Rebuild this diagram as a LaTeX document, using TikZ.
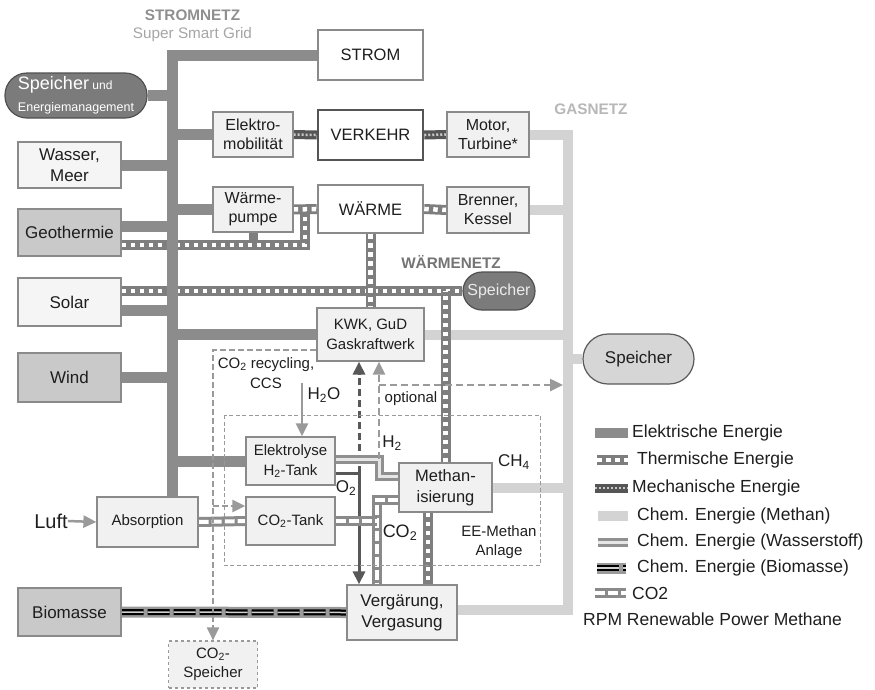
\documentclass[tikz,border=0pt]{standalone}
\usepackage{fontspec}
\setmainfont{Liberation Sans}
\usetikzlibrary{arrows.meta,backgrounds,calc}
\definecolor{elecC}{HTML}{8C8C8C}
\definecolor{gasC}{HTML}{D3D3D3}
\definecolor{thermC}{HTML}{7E7E7E}
\definecolor{mechC}{HTML}{555555}
\definecolor{mechD}{HTML}{C8C8C8}
\definecolor{hydC}{HTML}{909090}
\definecolor{hydD}{HTML}{E6E6E6}
\definecolor{coC}{HTML}{8A8A8A}
\definecolor{bioC}{HTML}{9A9A9A}
\definecolor{bioD}{HTML}{D0D0D0}
\definecolor{boxF}{HTML}{F1F1F1}
\definecolor{boxB}{HTML}{8A8A8A}
\definecolor{darkF}{HTML}{C9C9C9}
\definecolor{pillD}{HTML}{7B7B7B}
\definecolor{pillB}{HTML}{505050}
\definecolor{pillL}{HTML}{D6D6D6}
\definecolor{dashC}{HTML}{9A9A9A}
\definecolor{arrD}{HTML}{585858}
\definecolor{txtC}{HTML}{1E1E1E}
\newcommand{\fntXL}{\fontsize{17}{21}\selectfont}
\newcommand{\fntL}{\fontsize{16.5}{21}\selectfont}
\newcommand{\fntM}{\fontsize{16}{19}\selectfont}
\newcommand{\fntS}{\fontsize{15}{19.5}\selectfont}
\begin{document}
\begin{tikzpicture}[x=1pt,y=-1pt,
  box/.style={draw=boxB, fill=boxF, line width=1.2pt, align=center, inner sep=0pt, text=txtC, font=\fntM},
  bigbox/.style={draw=boxB, fill=white, line width=2.5pt, align=center, inner sep=0pt, text=txtC, font=\fntL},
  srcbox/.style={box, font=\fntXL},
  darkbox/.style={srcbox, fill=darkF},
  elec/.style={draw=elecC, line width=11pt},
  gas/.style={draw=gasC, line width=10pt},
  therm/.style={draw=thermC, line width=10pt, postaction={draw=white, line width=4.5pt, dash pattern=on 4.5pt off 4.5pt}},
  mech/.style={draw=mechC, line width=9pt, postaction={draw=mechD, line width=2.5pt, dash pattern=on 2pt off 2pt}},
  hyd/.style={draw=hydC, line width=9pt, postaction={draw=hydD, line width=3pt}},
  cotwo/.style={draw=coC, line width=10pt, postaction={draw=white, line width=4pt, dash pattern=on 10pt off 3pt}},
  bio/.style={draw=bioC, line width=11pt, postaction={draw=black, line width=6pt, dash pattern=on 22pt off 4pt}, postaction={draw=bioD, line width=1.5pt, dash pattern=on 22pt off 4pt}},
  tipG/.style={-{Triangle[length=13pt,width=12pt]}},
  garrow/.style={draw=dashC, line width=2.5pt, tipG},
  ccs/.style={draw=dashC, line width=2pt, dash pattern=on 6pt off 3pt},
  optdash/.style={draw=dashC, line width=2.5pt, dash pattern=on 7pt off 4pt, tipG},
  o2line/.style={draw=arrD, line width=3pt, tipG},
  o2dash/.style={draw=arrD, line width=3pt, dash pattern=on 7pt off 4pt, tipG},
  lbl/.style={text=txtC, inner sep=0pt},
  legtxt/.style={text=txtC, anchor=west, inner sep=0pt, font=\fontsize{17.5}{21}\selectfont}
]
\useasboundingbox (0,0) rectangle (875,689);

% ---------- titles ----------
\node[text=txtC!50, font=\bfseries\fontsize{15.3}{18}\selectfont] (tStrom) at (192.5,15) {STROMNETZ};
\node[text=txtC!40, font=\fontsize{15.3}{18}\selectfont] (tSmart) at (192.5,35) {Super Smart Grid};
\node[text=txtC!32, font=\bfseries\fontsize{15.3}{18}\selectfont] (tGas) at (591,109) {GASNETZ};
\node[text=txtC!62, font=\bfseries\fontsize{15.3}{18}\selectfont] (tWaerme) at (451,262) {WÄRMENETZ};

% ---------- nodes ----------
\node[bigbox, minimum width=105pt, minimum height=50pt] (strom) at (370.5,55) {STROM};
\node[bigbox, draw=mechC, minimum width=105pt, minimum height=50pt] (verkehr) at (370.5,135) {VERKEHR};
\node[bigbox, minimum width=105pt, minimum height=48pt] (waerme) at (370.5,209) {WÄRME};
\node[box, minimum width=80pt, minimum height=45pt] (emob) at (253,134.5) {Elektro-\\mobilität};
\node[box, minimum width=80pt, minimum height=45pt] (wpumpe) at (253,209.5) {Wärme-\\pumpe};
\node[box, minimum width=82pt, minimum height=45pt] (motor) at (488,134.5) {Motor,\\Turbine*};
\node[box, minimum width=82pt, minimum height=46pt] (brenner) at (488,210) {Brenner,\\Kessel};
\node[draw=pillB, fill=pillD, line width=1.2pt, text=white, inner sep=0pt, minimum width=142pt, minimum height=45pt, rounded corners=22pt, align=left, font=\fontsize{12.5}{21.5}\selectfont] (spE) at (76,95.5)
  {{\fontsize{18}{21.5}\selectfont Speicher} {\fontsize{12}{14}\selectfont und}\\Energiemanagement};
\node[srcbox, fill=white!96!black, minimum width=103pt, minimum height=46pt] (wasser) at (69.5,165) {Wasser,\\Meer};
\node[darkbox, minimum width=103pt, minimum height=47pt] (geo) at (69.5,232.5) {Geothermie};
\node[srcbox, fill=white!96!black, minimum width=103pt, minimum height=48pt] (solar) at (69.5,302) {Solar};
\node[darkbox, minimum width=103pt, minimum height=49pt] (wind) at (69.5,377.5) {Wind};
\node[draw=pillB, fill=pillD, line width=1.2pt, text=white!92!black, inner sep=0pt, minimum width=72pt, minimum height=38pt, rounded corners=19pt, font=\fntM] (wspeicher) at (499,291) {Speicher};
\node[box, font=\fntS, minimum width=107pt, minimum height=53pt] (kwk) at (370.5,334.5) {KWK, GuD\\Gaskraftwerk};
\node[draw=black!65, fill=pillL, line width=1.2pt, text=txtC, inner sep=0pt, minimum width=111pt, minimum height=50pt, rounded corners=25pt, font=\fntXL] (rspeicher) at (638.5,359) {Speicher};
\node[box, font=\fntS, minimum width=89pt, minimum height=48pt] (elek) at (290.5,461) {Elektrolyse\\H\textsubscript{2}-Tank};
\node[box, font=\fntS, minimum width=89pt, minimum height=48pt] (co2tank) at (290.5,521) {CO\textsubscript{2}-Tank};
\node[box, font=\fntS, minimum width=101pt, minimum height=50pt] (absorb) at (147.5,522) {Absorption};
\node[box, font=\fntL, minimum width=93pt, minimum height=49pt] (methan) at (445.5,487.5) {Methan-\\isierung};
\node[box, font=\fntXL, minimum width=110pt, minimum height=55pt] (verg) at (402,612.5) {Vergärung,\\Vergasung};
\node[darkbox, minimum width=103pt, minimum height=48pt] (biomasse) at (69.5,612) {Biomasse};
\node[box, font=\fntS, dashed, draw=dashC, minimum width=89pt, minimum height=47pt] (co2sp) at (213,664.5) {CO\textsubscript{2}-\\Speicher};
\node[lbl, font=\fontsize{20}{24}\selectfont] (luft) at (51,521) {Luft};

% ---------- labels ----------
\node[lbl, font=\fntS, align=center] (lCCS) at (266,373) {CO\textsubscript{2} recycling,\\CCS};
\node[lbl, font=\fntXL] (lH2O) at (324,395) {H\textsubscript{2}O};
\node[lbl, font=\fntS] (lOpt) at (411,399) {optional};
\node[lbl, font=\fntXL] (lH2) at (392,443) {H\textsubscript{2}};
\node[lbl, font=\fntXL] (lCH4) at (514,462) {CH\textsubscript{4}};
\node[lbl, font=\fntXL] (lO2) at (346,488) {O\textsubscript{2}};
\node[lbl, font=\fontsize{18}{21}\selectfont] (lCO2) at (400,533) {CO\textsubscript{2}};
\node[lbl, font=\fntS, align=center] (lEE) at (499,542) {EE-Methan\\Anlage};

% ---------- connectors ----------
\begin{scope}[on background layer]
  % gas network
  \coordinate (gTop) at (568,134);
  \coordinate (gBot) at (568,610);
  \draw[gas] (motor.east) -- (motor.east -| gTop) -- (gBot) -- (gBot -| verg.east);
  \draw[gas] (brenner.east) -- (brenner.east -| gTop);
  \draw[gas] (kwk.east) -- (kwk.east -| gTop);
  \draw[gas] (methan.east) -- (methan.east -| gTop);
  \draw[gas] (rspeicher.west) -- (rspeicher.west -| gTop);
  % thermal
  \coordinate (tA) at (305,245);
  \draw[draw=thermC, line width=9pt] (wpumpe.south) -- (wpumpe.south |- tA);
  \draw[therm] ([yshift=-12.5pt]geo.east) -- (tA) -- (tA |- wpumpe.east);
  \draw[therm] (wpumpe.east) -- (waerme.west);
  \draw[therm] (waerme.east) -- (brenner.west);
  \draw[therm] ([yshift=11pt]solar.east) -- (wspeicher.west);
  \draw[therm] (waerme.south) -- (kwk.north);
  \draw[therm] (methan.north) -- (methan.north |- wspeicher.west);
  \draw[therm] ([xshift=-17.5pt]methan.south) -- ([xshift=-17.5pt]methan.south |- verg.north);
  % mechanical
  \draw[mech] (emob.east) -- (verkehr.west);
  \draw[mech] (verkehr.east) -- (motor.west);
  % electric grid
  \coordinate (sTop) at (172,55);
  \draw[elec] (strom.west) -- (strom.west -| sTop) -- (sTop |- absorb.north);
  \draw[elec] (spE.east) -- (spE.east -| sTop);
  \draw[elec] (wasser.east) -- (wasser.east -| sTop);
  \draw[elec] (emob.west) -- (emob.west -| sTop);
  \draw[elec] (wpumpe.west) -- (wpumpe.west -| sTop);
  \draw[elec] ([yshift=6.5pt]geo.east) -- ([yshift=6.5pt]geo.east -| sTop);
  \draw[elec] ([yshift=-8pt]solar.east) -- ([yshift=-8pt]solar.east -| sTop);
  \draw[elec] (wind.east) -- (wind.east -| sTop);
  \draw[elec] (kwk.west) -- (kwk.west -| sTop);
  \draw[elec] (elek.west) -- (elek.west -| sTop);
  % O2 and KWK link
  \coordinate (oJ) at (359,473);
  \draw[o2line] ([yshift=-12pt]elek.east) -- (oJ) -- (oJ |- verg.north);
  \draw[o2dash] (oJ) -- (oJ |- kwk.south);
  % hydrogen
  \coordinate (hA) at (379,459);
  \coordinate (hB) at (379,476);
  \draw[hyd] ([yshift=2pt]elek.east) -- (hA) -- (hB) -- (hB -| methan.west);
  % optional
  \draw[optdash] (hA) -- (hA |- kwk.south);
  \coordinate (oS) at (379,385);
  \coordinate (gL) at (563,385);
  \draw[optdash] (oS) -- (gL);
  % CO2
  \draw[cotwo] (absorb.east) -- (co2tank.west);
  \coordinate (cA) at (377,500);
  \draw[cotwo] ([yshift=-12.5pt]methan.west) -- (cA) -- (cA |- verg.north);
  \draw[cotwo] (co2tank.east) -- (co2tank.east -| cA);
  % biomass
  \draw[bio] (biomasse.east) -- (verg.west);
  % CCS dashed
  \coordinate (ccA) at (213,350);
  \draw[ccs, tipG] ([yshift=-15.5pt]kwk.west) -- (ccA) -- (co2sp.north);
  \coordinate (ccB) at (213,506);
  \draw[ccs, line width=2.5pt, tipG] (ccB) -- (ccB -| co2tank.west);
  \draw[draw=dashC, line width=1pt, dash pattern=on 4pt off 2.5pt] (224,415) rectangle (540,565);
  % small arrows
  \coordinate (h2oTop) at (302,383);
  \draw[garrow] (h2oTop) -- (h2oTop |- elek.north);
  \draw[garrow] (luft.east) -- (absorb.west);
\end{scope}

% ---------- legend ----------
\draw[draw=elecC, line width=10pt] (595,433) -- (628,433);
\draw[therm] (597,460) -- (628,460);
\draw[mech] (595,488) -- (628,488);
\draw[gas] (598,516) -- (628,516);
\draw[hyd] (598,542) -- (628,542);
\draw[bio, dash pattern=] (597,568) -- (626,568);
\draw[cotwo] (595,593) -- (626,593);
\node[legtxt] (leg1) at (632,433) {Elektrische Energie};
\node[legtxt] (leg2) at (637,460) {Thermische Energie};
\node[legtxt] (leg3) at (632,488) {Mechanische Energie};
\node[legtxt] (leg4) at (637,516) {Chem. Energie (Methan)};
\node[legtxt] (leg5) at (637,542) {Chem. Energie (Wasserstoff)};
\node[legtxt] (leg6) at (637,568) {Chem. Energie (Biomasse)};
\node[legtxt] (leg7) at (632,593) {CO2};
\node[legtxt] (leg8) at (583,619) {RPM Renewable Power Methane};
\end{tikzpicture}
\end{document}
